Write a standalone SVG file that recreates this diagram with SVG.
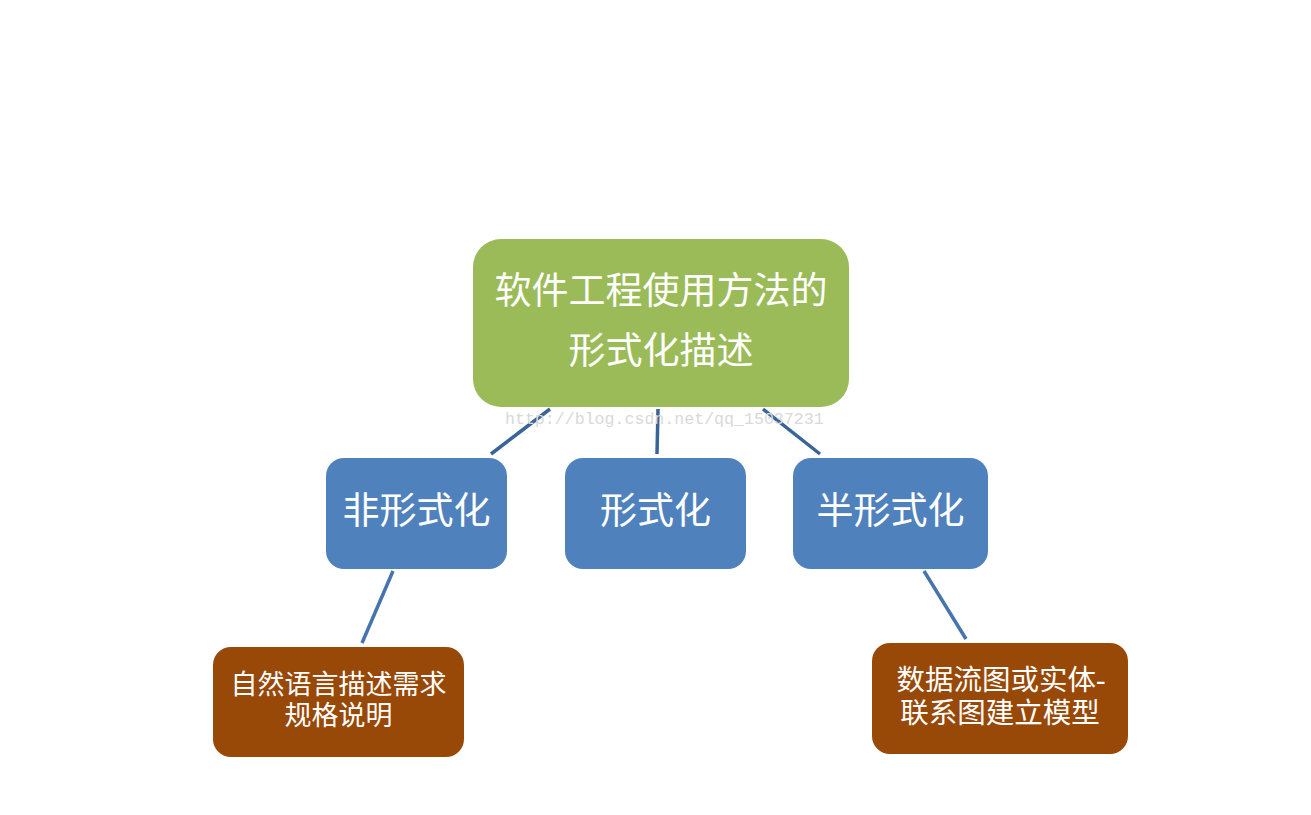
<svg xmlns="http://www.w3.org/2000/svg" width="1311" height="815" viewBox="0 0 1311 815">
<style>
.t{font-family:"Liberation Serif","Noto Sans CJK SC",serif;fill:#ffffff;text-anchor:middle;dominant-baseline:central}
.big{font-size:37px}
.small{font-size:27px}
.mid{font-size:28.5px}
.wm{font-family:"Liberation Mono",monospace;font-size:16.6px;fill:#d9d9d9}
.c{stroke-width:3.5;fill:none;stroke-linecap:butt}
</style>
<rect width="1311" height="815" fill="#ffffff"/>
<g id="connectors">
<line class="c" x1="550" y1="409" x2="491" y2="454" stroke="#3A6496"/>
<line class="c" x1="658" y1="409" x2="657" y2="454" stroke="#3A6496"/>
<line class="c" x1="763" y1="409" x2="820" y2="454" stroke="#3A6496"/>
<line class="c" x1="393" y1="571" x2="362" y2="643" stroke="#4674AD"/>
<line class="c" x1="924" y1="571" x2="966" y2="639" stroke="#4674AD"/>
</g>
<text class="wm" x="505" y="424">http://blog.csdn.net/qq_15037231</text>
<g id="root">
<rect x="473" y="239" width="376" height="168" rx="28" fill="#9BBB59"/>
<text class="t big" x="661" y="291">软件工程使用方法的</text>
<text class="t big" x="661" y="351">形式化描述</text>
</g>
<g id="informal">
<rect x="326" y="458" width="181" height="111" rx="18" fill="#4F81BD"/>
<text class="t big" x="416.5" y="511">非形式化</text>
</g>
<g id="formal">
<rect x="565" y="458" width="181" height="111" rx="18" fill="#4F81BD"/>
<text class="t big" x="655.5" y="511">形式化</text>
</g>
<g id="semiformal">
<rect x="793" y="458" width="195" height="111" rx="18" fill="#4F81BD"/>
<text class="t big" x="890.5" y="511">半形式化</text>
</g>
<g id="natural">
<rect x="213" y="647" width="251" height="110" rx="18" fill="#984807"/>
<text class="t small" x="338.5" y="685">自然语言描述需求</text>
<text class="t small" x="338.5" y="716">规格说明</text>
</g>
<g id="dfd">
<rect x="872" y="643" width="256" height="111" rx="18" fill="#984807"/>
<text class="t mid" x="1001" y="680">数据流图或实体-</text>
<text class="t mid" x="1000" y="713">联系图建立模型</text>
</g>
</svg>
